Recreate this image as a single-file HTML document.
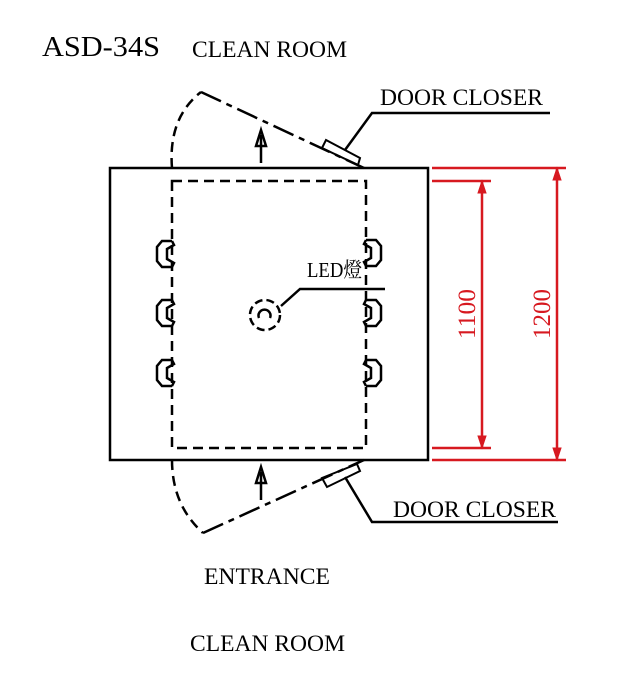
<!DOCTYPE html><html><head><style>body{margin:0;background:#fff}svg{display:block}text{font-family:"Liberation Serif","Noto Serif CJK SC",serif}</style></head><body>
<svg width="639" height="679" viewBox="0 0 639 679" xmlns="http://www.w3.org/2000/svg">
<defs>
<g id="hl"><path d="M2,-14 L-8,-14 L-13,-8 L-13,6 L-8,12 L2,12 M2,-14 L4,-10 L-3,-6 L-3,4 L4,8 L2,12" fill="none" stroke="#000" stroke-width="2.5"/></g>
<g id="hr"><path d="M-2,-14 L8,-14 L13,-8 L13,6 L8,12 L-2,12 M-2,-14 L-4,-10 L3,-6 L3,4 L-4,8 L-2,12" fill="none" stroke="#000" stroke-width="2.5"/></g>
</defs>
<text x="42" y="56" font-size="28" textLength="118" lengthAdjust="spacingAndGlyphs">ASD-34S</text>
<text x="192" y="57" font-size="23" textLength="155" lengthAdjust="spacingAndGlyphs">CLEAN ROOM</text>
<text x="380" y="105" font-size="23" textLength="163" lengthAdjust="spacingAndGlyphs">DOOR CLOSER</text>
<text x="393" y="517" font-size="23" textLength="163" lengthAdjust="spacingAndGlyphs">DOOR CLOSER</text>
<text x="204" y="584" font-size="23" textLength="126" lengthAdjust="spacingAndGlyphs">ENTRANCE</text>
<text x="190" y="651" font-size="23" textLength="155" lengthAdjust="spacingAndGlyphs">CLEAN ROOM</text>
<text x="307" y="277" font-size="21" textLength="55" lengthAdjust="spacingAndGlyphs">LED燈</text>
<g fill="none" stroke="#000" stroke-width="2.5">
<rect x="110" y="168" width="318" height="292"/>
<rect x="172" y="181" width="194" height="267" stroke-dasharray="10,6"/>
<path d="M172,168 Q168,118 201,92" stroke-dasharray="10,6"/>
<path d="M201,92 L364,168" stroke-dasharray="22,6,6,6"/>
<path d="M172,460 Q172,505 203,533" stroke-dasharray="10,6"/>
<path d="M203,533 L364,460" stroke-dasharray="22,6,6,6"/>
<path d="M322,148 L326,140 L360,158 L358,165 Z" stroke-width="2"/>
<path d="M322,478 L327,487 L360,471 L357,464 Z" stroke-width="2"/>
<path d="M345,150 L372,113 L550,113"/>
<path d="M345,477 L372,522 L558,522"/>
<path d="M261,163 L261,135 M256,146 L261,130 L266,146 Z"/>
<path d="M261,500 L261,472 M256,483 L261,467 L266,483 Z"/>
<circle cx="265" cy="315" r="15" stroke-dasharray="8,4"/>
<path d="M259,318 A6,6 0 1 1 270,318"/>
<path d="M281,306 L300,289 L385,289"/>
</g>
<use href="#hl" x="170" y="255"/><use href="#hl" x="170" y="314"/><use href="#hl" x="170" y="374"/>
<use href="#hr" x="368" y="254"/><use href="#hr" x="368" y="314"/><use href="#hr" x="368" y="374"/>
<g stroke="#d71920" stroke-width="2.5" fill="#d71920">
<path d="M432,168 L566,168 M432,460 L566,460 M432,181 L491,181 M432,448 L491,448 M482,181 L482,448 M557,168 L557,460"/>
<path d="M478,193 L482,181 L486,193Z M478,436 L482,448 L486,436Z M553,180 L557,168 L561,180Z M553,448 L557,460 L561,448Z" stroke-width="1"/>
</g>
<text transform="translate(475,314) rotate(-90)" text-anchor="middle" font-size="25" textLength="50" lengthAdjust="spacingAndGlyphs" fill="#d71920">1100</text>
<text transform="translate(550,314) rotate(-90)" text-anchor="middle" font-size="25" textLength="50" lengthAdjust="spacingAndGlyphs" fill="#d71920">1200</text>
</svg></body></html>
